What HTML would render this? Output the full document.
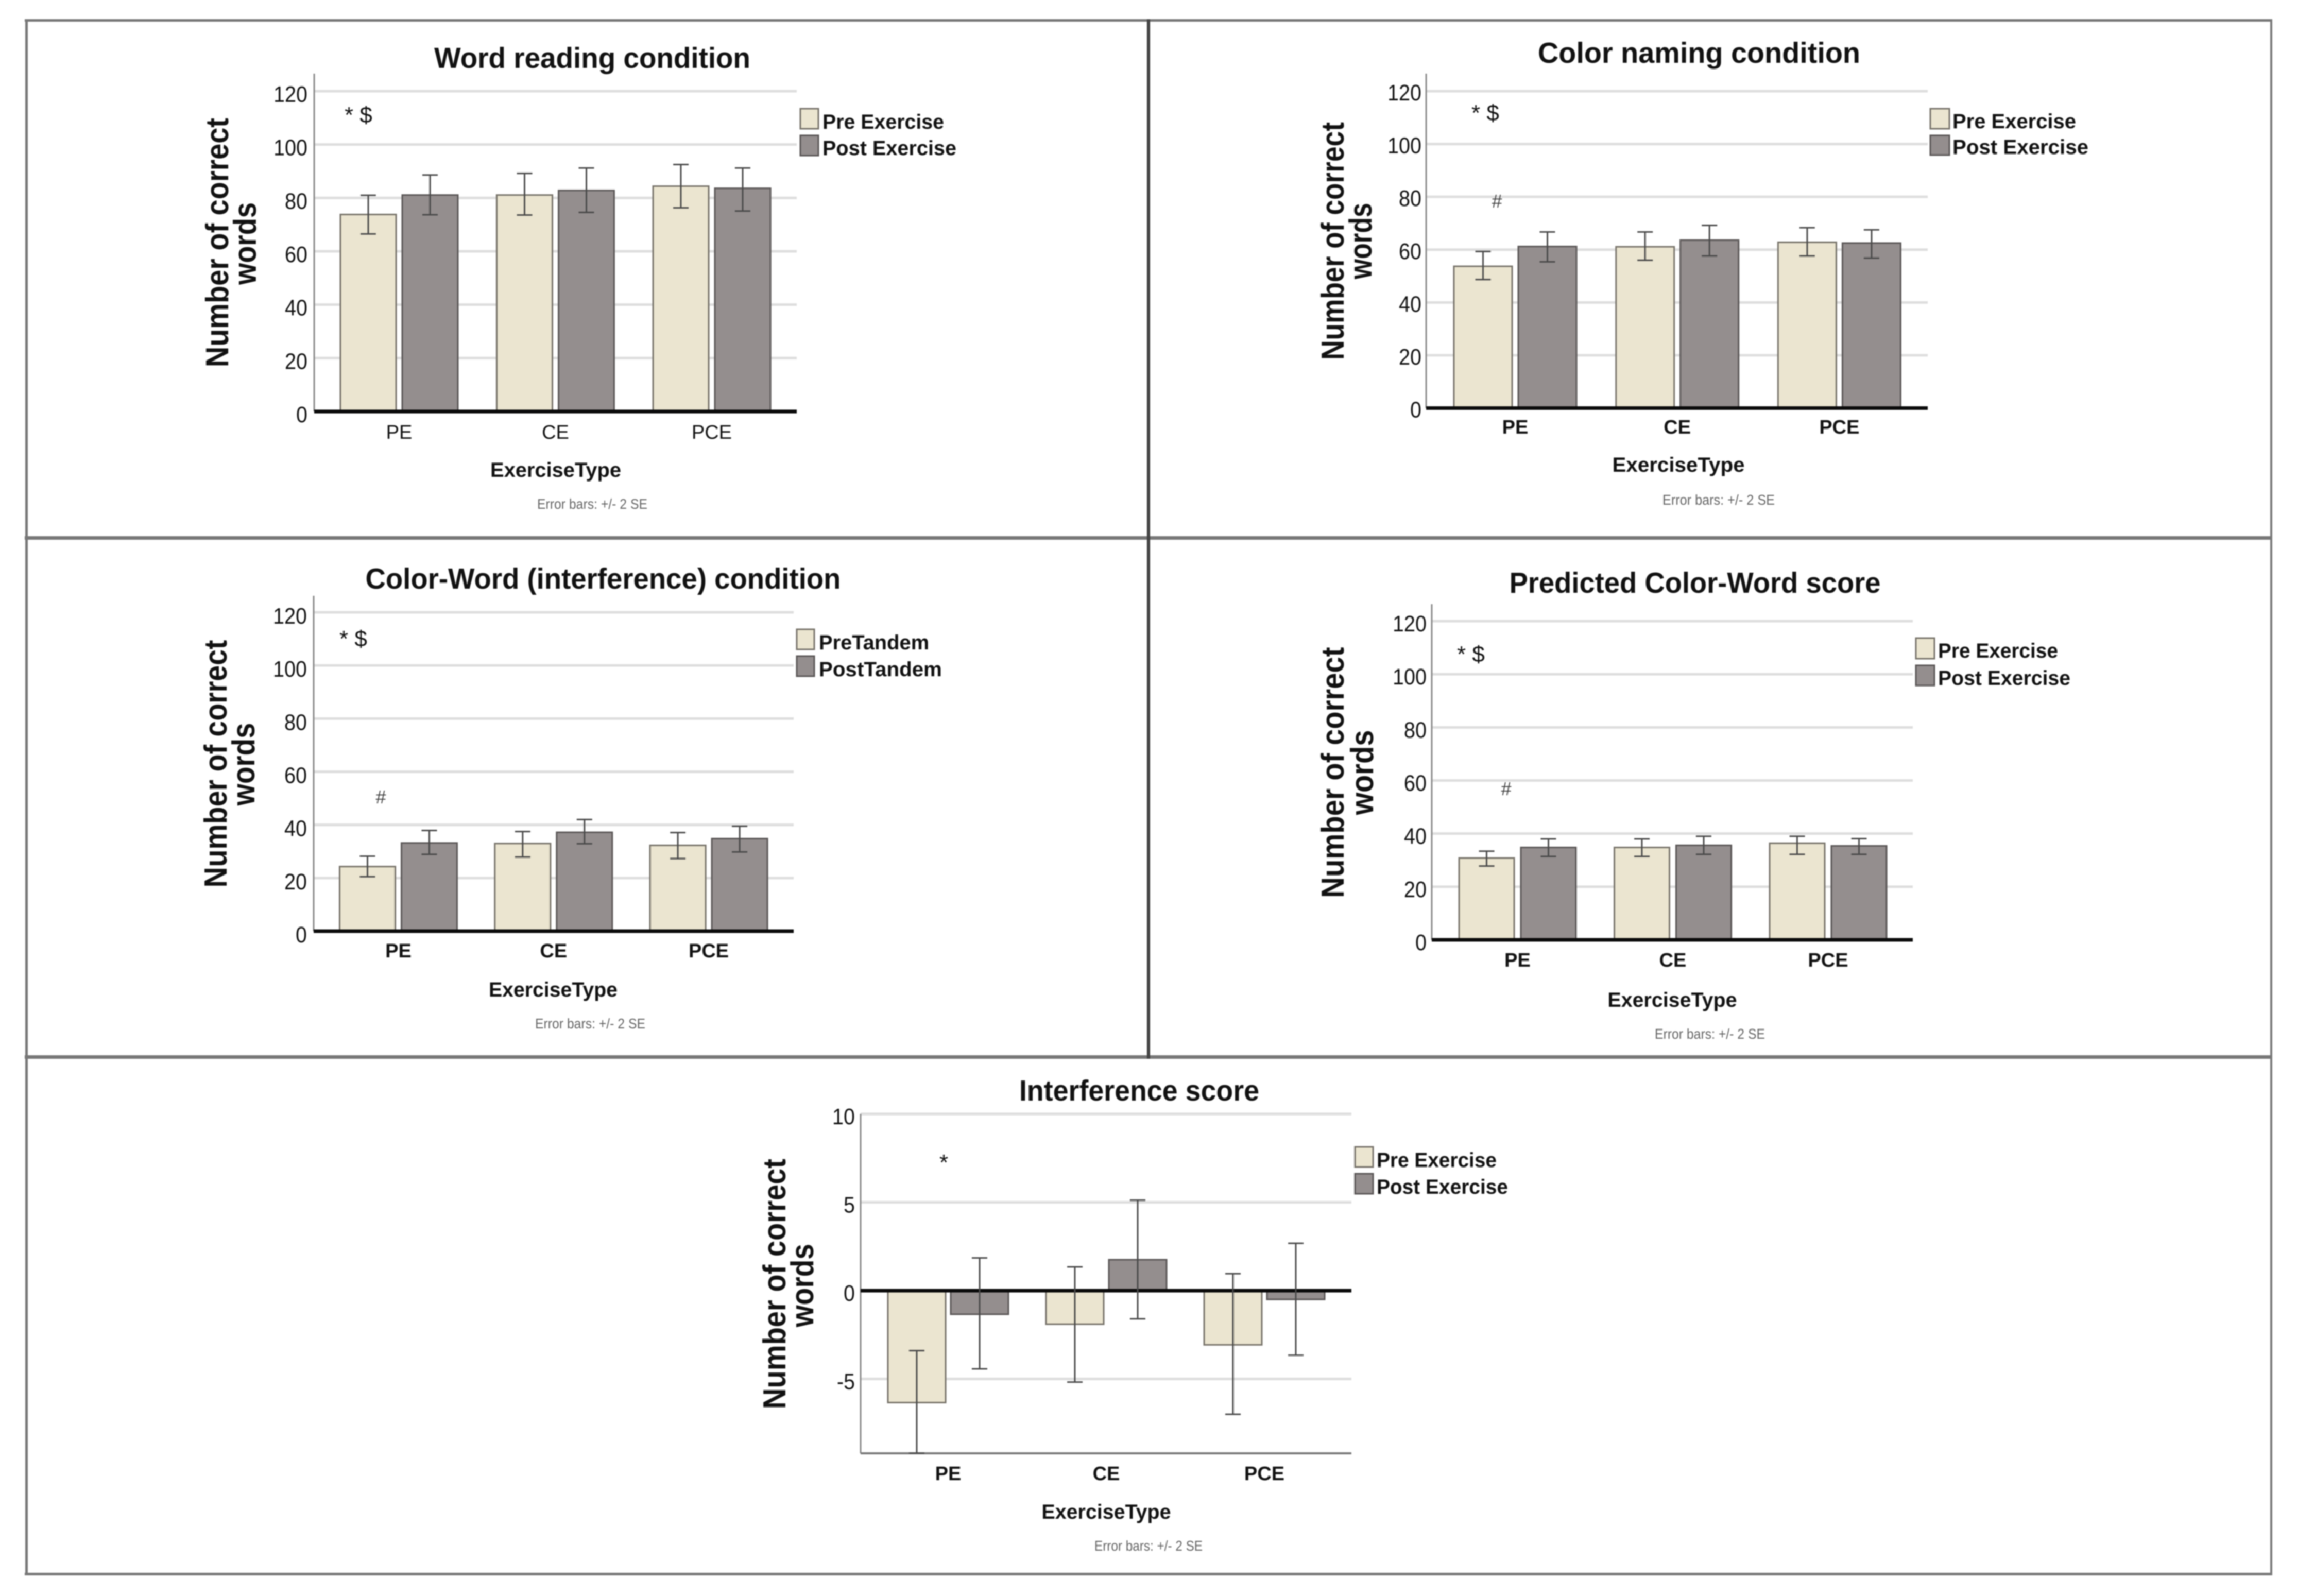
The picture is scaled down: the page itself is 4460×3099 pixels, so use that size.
<!DOCTYPE html>
<html lang="en">
<head>
<meta charset="utf-8">
<title>Stroop test results by exercise type</title>
<style>
html,body{margin:0;padding:0;background:#fff;}
svg{display:block;filter:blur(1.1px);}
text{font-family:"Liberation Sans",Arial,sans-serif;fill:#111;}
.title{font-size:57px;font-weight:bold;text-anchor:middle;}
.ytitle{font-size:62px;font-weight:bold;text-anchor:middle;}
.xtitle{font-size:40px;font-weight:bold;text-anchor:middle;}
.note{font-size:28px;text-anchor:middle;fill:#666;}
.legend{font-size:40px;font-weight:bold;}
.sig{font-size:44px;}
.hash{font-size:36px;font-style:italic;text-anchor:middle;fill:#444;}
.frame{fill:#777;}
.pre{fill:#ebe5d0;stroke:#77736a;stroke-width:3;}
.post{fill:#948e8e;stroke:#5a5656;stroke-width:3;}
</style>
</head>
<body>
<svg id="figure" xmlns="http://www.w3.org/2000/svg" width="4460" height="3099" viewBox="0 0 4460 3099">
  <rect x="0" y="0" width="4460" height="3099" fill="#fff"/>
  <g id="marks"></g>

  <g>
    <rect class="frame" x="48" y="37" width="4364" height="5"/>
    <rect class="frame" x="49" y="37" width="5" height="3022"/>
    <rect class="frame" x="4408" y="37" width="4" height="3022"/>
    <rect class="frame" x="48" y="3054" width="4364" height="5"/>
    <rect class="frame" x="48" y="1041" width="4364" height="7"/>
    <rect class="frame" x="48" y="2049" width="4364" height="7"/>
    <rect x="2227" y="37" width="6" height="2019" fill="#444"/>
  </g>

  <g>
    <text class="title" x="1150" y="132" textLength="614" lengthAdjust="spacingAndGlyphs">Word reading condition</text>
    <text class="ytitle" transform="translate(443 471) rotate(-90)" textLength="484" lengthAdjust="spacingAndGlyphs">Number of correct</text>
    <text class="ytitle" transform="translate(497 473) rotate(-90)" textLength="160" lengthAdjust="spacingAndGlyphs">words</text>
    <text class="xtitle" x="1079" y="926" textLength="254" lengthAdjust="spacingAndGlyphs">ExerciseType</text>
    <text class="note" x="1150" y="988" textLength="214" lengthAdjust="spacingAndGlyphs">Error bars: +/- 2 SE</text>
    <text class="sig" x="669" y="238">* $</text>
    <g>
      <rect class="pre" x="1554" y="211" width="35" height="39"/>
      <text class="legend" x="1597" y="250" textLength="236" lengthAdjust="spacingAndGlyphs">Pre Exercise</text>
      <rect class="post" x="1554" y="263" width="35" height="39"/>
      <text class="legend" x="1597" y="301" textLength="260" lengthAdjust="spacingAndGlyphs">Post Exercise</text>
    </g>
  </g>

  <g>
    <text class="title" x="3299" y="122" textLength="626" lengthAdjust="spacingAndGlyphs">Color naming condition</text>
    <text class="ytitle" transform="translate(2609 468) rotate(-90)" textLength="462" lengthAdjust="spacingAndGlyphs">Number of correct</text>
    <text class="ytitle" transform="translate(2663 468) rotate(-90)" textLength="148" lengthAdjust="spacingAndGlyphs">words</text>
    <text class="xtitle" x="3259" y="916" textLength="257" lengthAdjust="spacingAndGlyphs">ExerciseType</text>
    <text class="note" x="3337" y="980" textLength="218" lengthAdjust="spacingAndGlyphs">Error bars: +/- 2 SE</text>
    <text class="sig" x="2857" y="234">* $</text>
    <text class="hash" x="2906" y="403">#</text>
    <g>
      <rect class="pre" x="3748" y="211" width="37" height="39"/>
      <text class="legend" x="3791" y="249" textLength="240" lengthAdjust="spacingAndGlyphs">Pre Exercise</text>
      <rect class="post" x="3748" y="263" width="37" height="38"/>
      <text class="legend" x="3791" y="299" textLength="264" lengthAdjust="spacingAndGlyphs">Post Exercise</text>
    </g>
  </g>

  <g>
    <text class="title" x="1171" y="1143" textLength="923" lengthAdjust="spacingAndGlyphs">Color-Word (interference) condition</text>
    <text class="ytitle" transform="translate(440 1483) rotate(-90)" textLength="481" lengthAdjust="spacingAndGlyphs">Number of correct</text>
    <text class="ytitle" transform="translate(494 1484) rotate(-90)" textLength="161" lengthAdjust="spacingAndGlyphs">words</text>
    <text class="xtitle" x="1074" y="1935" textLength="250" lengthAdjust="spacingAndGlyphs">ExerciseType</text>
    <text class="note" x="1146" y="1997" textLength="214" lengthAdjust="spacingAndGlyphs">Error bars: +/- 2 SE</text>
    <text class="sig" x="659" y="1255">* $</text>
    <text class="hash" x="739" y="1560">#</text>
    <g>
      <rect class="pre" x="1547" y="1222" width="34" height="39"/>
      <text class="legend" x="1590" y="1261" textLength="214" lengthAdjust="spacingAndGlyphs">PreTandem</text>
      <rect class="post" x="1547" y="1274" width="34" height="39"/>
      <text class="legend" x="1590" y="1313" textLength="239" lengthAdjust="spacingAndGlyphs">PostTandem</text>
    </g>
  </g>

  <g>
    <text class="title" x="3291" y="1151" textLength="721" lengthAdjust="spacingAndGlyphs">Predicted Color-Word score</text>
    <text class="ytitle" transform="translate(2609 1500) rotate(-90)" textLength="487" lengthAdjust="spacingAndGlyphs">Number of correct</text>
    <text class="ytitle" transform="translate(2666 1500) rotate(-90)" textLength="165" lengthAdjust="spacingAndGlyphs">words</text>
    <text class="xtitle" x="3247" y="1955" textLength="251" lengthAdjust="spacingAndGlyphs">ExerciseType</text>
    <text class="note" x="3320" y="2017" textLength="214" lengthAdjust="spacingAndGlyphs">Error bars: +/- 2 SE</text>
    <text class="sig" x="2829" y="1285">* $</text>
    <text class="hash" x="2924" y="1544">#</text>
    <g>
      <rect class="pre" x="3720" y="1239" width="36" height="40"/>
      <text class="legend" x="3763" y="1277" textLength="233" lengthAdjust="spacingAndGlyphs">Pre Exercise</text>
      <rect class="post" x="3720" y="1292" width="36" height="39"/>
      <text class="legend" x="3763" y="1330" textLength="257" lengthAdjust="spacingAndGlyphs">Post Exercise</text>
    </g>
  </g>

  <g>
    <text class="title" x="2212" y="2137" textLength="466" lengthAdjust="spacingAndGlyphs">Interference score</text>
    <text class="ytitle" transform="translate(1525 2493) rotate(-90)" textLength="486" lengthAdjust="spacingAndGlyphs">Number of correct</text>
    <text class="ytitle" transform="translate(1579 2496) rotate(-90)" textLength="162" lengthAdjust="spacingAndGlyphs">words</text>
    <text class="xtitle" x="2148" y="2949" textLength="251" lengthAdjust="spacingAndGlyphs">ExerciseType</text>
    <text class="note" x="2230" y="3011" textLength="210" lengthAdjust="spacingAndGlyphs">Error bars: +/- 2 SE</text>
    <text class="sig" x="1824" y="2272">*</text>
    <g>
      <rect class="pre" x="2631" y="2227" width="35" height="39"/>
      <text class="legend" x="2673" y="2266" textLength="233" lengthAdjust="spacingAndGlyphs">Pre Exercise</text>
      <rect class="post" x="2631" y="2279" width="35" height="39"/>
      <text class="legend" x="2673" y="2318" textLength="255" lengthAdjust="spacingAndGlyphs">Post Exercise</text>
    </g>
  </g>
</svg>

<script>
// Shared categories and tick labels
var categories = ['PE', 'CE', 'PCE'];
var countTicks = [0, 20, 40, 60, 80, 100, 120];
var scoreTicks = [-5, 0, 5, 10];

// Word reading condition
var wordPreMean = [73.8, 81.1, 84.4];
var wordPreHigh = [81, 89.2, 92.5];
var wordPreLow = [66.5, 73.6, 76.3];
var wordPostMean = [81.1, 82.8, 83.6];
var wordPostHigh = [88.6, 91.2, 91.2];
var wordPostLow = [73.7, 74.6, 75.1];

// Color naming condition
var colorPreMean = [53.7, 61.1, 62.8];
var colorPreHigh = [59.3, 66.7, 68.3];
var colorPreLow = [48.7, 56, 57.6];
var colorPostMean = [61.2, 63.6, 62.5];
var colorPostHigh = [66.7, 69.2, 67.5];
var colorPostLow = [55.4, 57.6, 56.8];

// Color-Word (interference) condition
var cwPreMean = [24.3, 33, 32.3];
var cwPreHigh = [28.2, 37.5, 37.1];
var cwPreLow = [20.5, 27.9, 27.3];
var cwPostMean = [33.2, 37.2, 34.8];
var cwPostHigh = [37.9, 42, 39.5];
var cwPostLow = [28.9, 32.9, 29.8];

// Predicted Color-Word score
var predPreMean = [30.8, 34.8, 36.4];
var predPreHigh = [33.4, 38, 39];
var predPreLow = [27.8, 31.4, 32.2];
var predPostMean = [34.8, 35.6, 35.4];
var predPostHigh = [38, 39, 38.1];
var predPostLow = [31.4, 32.2, 32.2];

// Interference score
var scorePreMean = [-6.34, -1.9, -3.07];
var scorePreHigh = [-3.4, 1.34, 0.96];
var scorePreLow = [-9.2, -5.18, -7];
var scorePostMean = [-1.34, 1.75, -0.5];
var scorePostHigh = [1.85, 5.12, 2.68];
var scorePostLow = [-4.43, -1.6, -3.66];

var panels = [
  {name: 'word-reading', ticks: countTicks, left: 610, right: 1547, axisTop: 143, zeroY: 799, refY: 177, refValue: 120, center0: 775, spacing: 303.5, barW: 108, gap: 12, tickX: 597, tickDy: 21, catY: 852, catWeight: 'normal', catDx: 0,
    preMean: wordPreMean, preHigh: wordPreHigh, preLow: wordPreLow, postMean: wordPostMean, postHigh: wordPostHigh, postLow: wordPostLow},
  {name: 'color-naming', ticks: countTicks, left: 2769, right: 3743, axisTop: 143, zeroY: 792.5, refY: 177, refValue: 120, center0: 2942, spacing: 314.7, barW: 113, gap: 12, tickX: 2760, tickDy: 18, catY: 842, catWeight: 'bold', catDx: 0,
    preMean: colorPreMean, preHigh: colorPreHigh, preLow: colorPreLow, postMean: colorPostMean, postHigh: colorPostHigh, postLow: colorPostLow},
  {name: 'color-word', ticks: countTicks, left: 609, right: 1541, axisTop: 1157, zeroY: 1808, refY: 1189, refValue: 120, center0: 773.5, spacing: 301.3, barW: 108, gap: 12, tickX: 596, tickDy: 22, catY: 1859, catWeight: 'bold', catDx: 0,
    preMean: cwPreMean, preHigh: cwPreHigh, preLow: cwPreLow, postMean: cwPostMean, postHigh: cwPostHigh, postLow: cwPostLow},
  {name: 'predicted-color-word', ticks: countTicks, left: 2780, right: 3714, axisTop: 1173, zeroY: 1825, refY: 1206, refValue: 120, center0: 2946.5, spacing: 301.5, barW: 107, gap: 13, tickX: 2770, tickDy: 20, catY: 1877, catWeight: 'bold', catDx: 0,
    preMean: predPreMean, preHigh: predPreHigh, preLow: predPreLow, postMean: predPostMean, postHigh: predPostHigh, postLow: predPostLow},
  {name: 'interference-score', ticks: scoreTicks, left: 1671, right: 2624, axisTop: 2163, zeroY: 2506, refY: 2163, refValue: 10, center0: 1841, spacing: 307, barW: 112, gap: 10, tickX: 1660, tickDy: 20, catY: 2874, catWeight: 'bold', catDx: 0, bottomY: 2822,
    preMean: scorePreMean, preHigh: scorePreHigh, preLow: scorePreLow, postMean: scorePostMean, postHigh: scorePostHigh, postLow: scorePostLow}
];

var SVG_NS = 'http://www.w3.org/2000/svg';
var marksRoot = document.getElementById('marks');

function make(tag, attrs, parent) {
  var node = document.createElementNS(SVG_NS, tag);
  for (var key in attrs) { node.setAttribute(key, attrs[key]); }
  parent.appendChild(node);
  return node;
}
function yScale(p, value) {
  return p.zeroY - value * (p.zeroY - p.refY) / p.refValue;
}
function xScale(p, catIndex) {
  return p.center0 + catIndex * p.spacing;
}
function barLeft(p, catIndex, seriesIndex) {
  var c = xScale(p, catIndex);
  return seriesIndex === 0 ? c - p.gap / 2 - p.barW : c + p.gap / 2;
}

function drawPanel(p) {
  var g = make('g', {}, marksRoot);
  
  

  p.ticks.forEach(function (tick) {
    var y = yScale(p, tick);
    if (tick !== 0) {
      var grid = make('line', {x1: p.left, x2: p.right, y1: y, y2: y, stroke: '#dedede', 'stroke-width': 5}, g);
      
      
    }
    var digits = String(Math.abs(tick)).length;
    var labelWidth = digits * 22 + (tick < 0 ? 13 : 0);
    var label = make('text', {x: p.tickX, y: y + p.tickDy, 'text-anchor': 'end', 'font-size': 44, textLength: labelWidth, lengthAdjust: 'spacingAndGlyphs'}, g);
    label.textContent = String(tick);
    
    
  });

  var bottom = p.bottomY || p.zeroY;
  var yAxis = make('line', {x1: p.left, x2: p.left, y1: p.axisTop, y2: bottom, stroke: '#888', 'stroke-width': 3}, g);
  
  

  if (p.bottomY) {
    var xAxis = make('line', {x1: p.left, x2: p.right, y1: p.bottomY, y2: p.bottomY, stroke: '#777', 'stroke-width': 4}, g);
    
    
  }

  var series = [
    {key: 'pre', cls: 'pre', mean: p.preMean, high: p.preHigh, low: p.preLow},
    {key: 'post', cls: 'post', mean: p.postMean, high: p.postHigh, low: p.postLow}
  ];

  categories.forEach(function (cat, ci) {
    series.forEach(function (s, si) {
      var y0 = yScale(p, 0);
      var yv = yScale(p, s.mean[ci]);
      var bar = make('rect', {'class': s.cls, x: barLeft(p, ci, si), y: Math.min(y0, yv), width: p.barW, height: Math.abs(yv - y0)}, g);
      
      
    });
  });

  var zero = make('line', {x1: p.left, x2: p.right, y1: yScale(p, 0), y2: yScale(p, 0), stroke: '#0a0a0a', 'stroke-width': 7}, g);
  
  

  categories.forEach(function (cat, ci) {
    series.forEach(function (s, si) {
      var cx = barLeft(p, ci, si) + p.barW / 2;
      var hi = yScale(p, s.high[ci]);
      var lo = yScale(p, s.low[ci]);
      var err = make('path', {d: 'M' + (cx - 15) + ' ' + hi + 'H' + (cx + 15) + 'M' + cx + ' ' + hi + 'V' + lo + 'M' + (cx - 15) + ' ' + lo + 'H' + (cx + 15), fill: 'none', stroke: '#4a4a4a', 'stroke-width': 3}, g);
      
      
    });
    var catLabel = make('text', {x: xScale(p, ci) + p.catDx, y: p.catY, 'text-anchor': 'middle', 'font-size': 38, 'font-weight': p.catWeight}, g);
    catLabel.textContent = cat;
    
    
  });
}

panels.forEach(drawPanel);
</script>
</body>
</html>
